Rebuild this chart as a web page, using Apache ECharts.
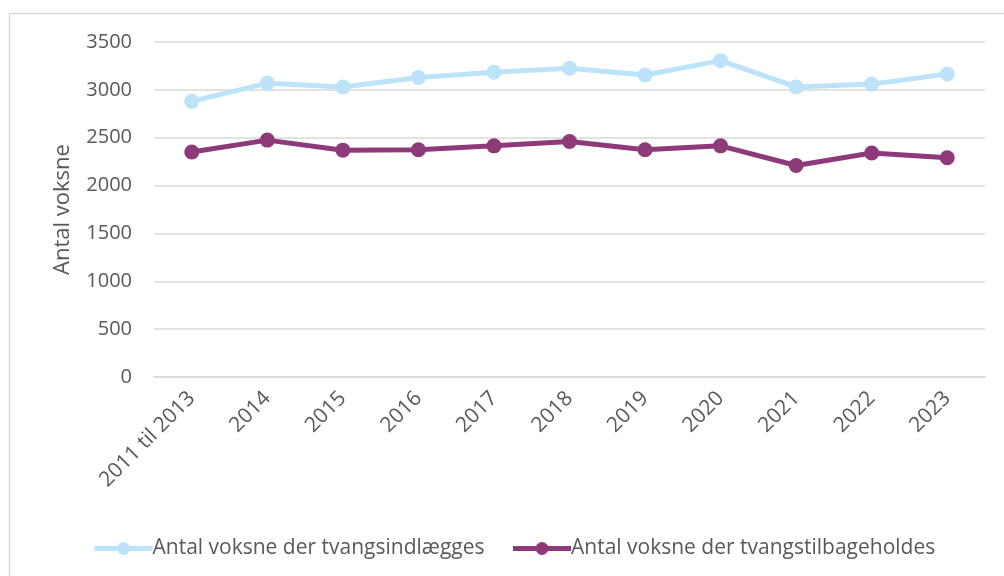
<!DOCTYPE html>
<html>
<head>
<meta charset="utf-8">
<script src="https://cdn.jsdelivr.net/npm/echarts@6/dist/echarts.min.js"></script>
<style>
  html, body { margin: 0; padding: 0; background: #fff; }
  #chart { width: 1004px; height: 576px; }
</style>
</head>
<body>
<div id="chart"></div>
<script>
  // data
  var categories = ['2011 til 2013', '2014', '2015', '2016', '2017', '2018', '2019', '2020', '2021', '2022', '2023'];
  var indlaegges = [2880, 3070, 3030, 3130, 3185, 3225, 3155, 3305, 3030, 3060, 3165];
  var tilbageholdes = [2350, 2475, 2370, 2375, 2415, 2460, 2375, 2415, 2210, 2340, 2290];
  var seriesNames = ['Antal voksne der tvangsindlægges', 'Antal voksne der tvangstilbageholdes'];
  var yTicks = [0, 500, 1000, 1500, 2000, 2500, 3000, 3500];

  var font = '"Open Sans", sans-serif';
  var txt = '#595959';
  var chart = echarts.init(document.getElementById('chart'));

  chart.setOption({
    animation: false,
    color: ['#BDE3FB', '#8E3A7A'],
    graphic: [{
      type: 'rect',
      shape: { x: 9.5, y: 13.5, width: 1100, height: 700 },
      style: { fill: 'none', stroke: '#d9d9d9', lineWidth: 1.5 },
      silent: true
    }],
    grid: { left: 154, right: 19, top: 42, bottom: 199 },
    legend: {
      bottom: 12,
      left: 87,
      itemWidth: 58,
      itemHeight: 16,
      itemGap: 26,
      lineStyle: { width: 5 },
      textStyle: { color: txt, fontSize: 21, fontFamily: font, padding: [0, 0, 0, -5] },
      data: seriesNames
    },
    xAxis: {
      type: 'category',
      data: categories,
      boundaryGap: true,
      axisLine: { lineStyle: { color: '#d9d9d9', width: 1.5 } },
      axisTick: { show: false },
      axisLabel: { rotate: 45, color: txt, fontSize: 21, fontFamily: font, margin: 18, interval: 0 }
    },
    yAxis: {
      type: 'value',
      min: yTicks[0],
      max: yTicks[yTicks.length - 1],
      interval: 500,
      name: 'Antal voksne',
      nameLocation: 'middle',
      nameGap: 80,
      nameTextStyle: { color: txt, fontSize: 22, fontFamily: font },
      axisLine: { show: false },
      axisTick: { show: false },
      axisLabel: { color: txt, fontSize: 20, fontFamily: font, margin: 22, formatter: function (v) { return String(v); } },
      splitLine: { lineStyle: { color: '#d9d9d9', width: 1.5 } }
    },
    series: [{
      name: seriesNames[0],
      type: 'line',
      data: indlaegges,
      symbol: 'circle',
      symbolSize: 15,
      lineStyle: { width: 5 }
    }, {
      name: seriesNames[1],
      type: 'line',
      data: tilbageholdes,
      symbol: 'circle',
      symbolSize: 15,
      lineStyle: { width: 5 }
    }]
  });
</script>
</body>
</html>
